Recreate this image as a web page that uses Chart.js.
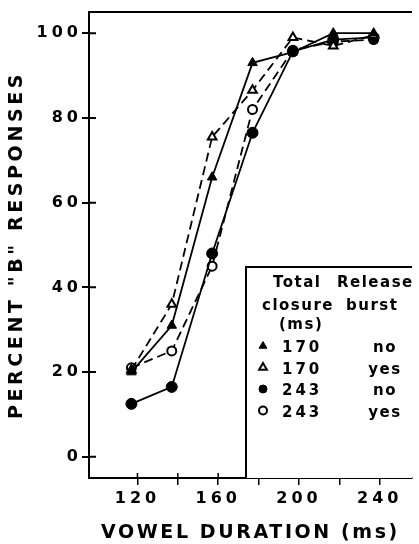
<!DOCTYPE html>
<html>
<head>
<meta charset="utf-8">
<script src="https://cdn.jsdelivr.net/npm/chart.js@4/dist/chart.umd.min.js"></script>
<style>
  html, body { margin: 0; padding: 0; background: #fff; }
  canvas { display: block; }
</style>
</head>
<body>
<canvas id="c" width="419" height="544"></canvas>
<script>
// ---- data ----
const vowelDurations = [117, 137, 157, 177, 197, 217, 237];
const closure170NoBurst  = [20, 31, 66, 93, 95.5, 100, 100];
const closure170Burst    = [20.5, 36, 75.5, 86.5, 99, 97, 99.5];
const closure243NoBurst  = [12.5, 16.5, 48, 76.5, 95.7, 98.5, 99];
const closure243Burst    = [21, 25, 45, 82, 96, 98, 98.5];
const xTickValues = [120, 140, 160, 180, 200, 220, 240];
const yTickValues = [0, 20, 40, 60, 80, 100];
const legendClosure = ['170', '170', '243', '243'];
const legendBurst = ['no', 'yes', 'no', 'yes'];

const FONT = 'DejaVu Sans';
const pts = arr => vowelDurations.map((x, i) => ({ x: x, y: arr[i] }));

const datasets = [
  { data: pts(closure170NoBurst), borderColor: '#000', borderWidth: 1.8,
    pointStyle: 'triangle', pointRadius: 5.5, pointBackgroundColor: '#000', pointBorderColor: '#000', pointBorderWidth: 1 },
  { data: pts(closure170Burst), borderColor: '#000', borderWidth: 1.8, borderDash: [9, 5],
    pointStyle: 'triangle', pointRadius: 5, pointBackgroundColor: '#fff', pointBorderColor: '#000', pointBorderWidth: 2 },
  { data: pts(closure243NoBurst), borderColor: '#000', borderWidth: 1.8,
    pointStyle: 'circle', pointRadius: 5.5, pointBackgroundColor: '#000', pointBorderColor: '#000', pointBorderWidth: 1 },
  { data: pts(closure243Burst), borderColor: '#000', borderWidth: 1.8, borderDash: [9, 5],
    pointStyle: 'circle', pointRadius: 4.5, pointBackgroundColor: '#fff', pointBorderColor: '#000', pointBorderWidth: 2 }
];

// letter spacing per scale element
const spacingPlugin = {
  id: 'spacing',
  beforeLayout(chart) { chart.ctx.letterSpacing = '4px'; },
  afterLayout(chart) {
    chart.ctx.letterSpacing = '0px';
    Object.values(chart.scales).forEach(s => {
      if (s._wrappedLS) return;
      const dl = s.drawLabels, dt = s.drawTitle;
      s.drawLabels = function (a) { const c = this.ctx; c.save(); c.letterSpacing = '4px'; dl.call(this, a); c.restore(); };
      s.drawTitle = function (a) { const c = this.ctx; c.save(); c.letterSpacing = (this.axis === 'x' ? '2.6px' : '3.6px'); dt.call(this, a); c.restore(); };
      s._wrappedLS = true;
    });
  }
};

// inner tick halves, top frame line and the legend table
const framePlugin = {
  id: 'frame',
  afterDatasetsDraw(chart) {
    const ctx = chart.ctx, a = chart.chartArea;
    const xs = chart.scales.x, ys = chart.scales.y;
    ctx.save();
    ctx.strokeStyle = '#000';
    ctx.lineWidth = 2;
    ctx.beginPath();
    ctx.moveTo(a.left - 1, a.top); ctx.lineTo(a.right, a.top);
    yTickValues.forEach(v => { const p = ys.getPixelForValue(v); ctx.moveTo(a.left, p); ctx.lineTo(a.left + 7, p); });
    ctx.stroke();
    ctx.lineWidth = 1.5;
    ctx.beginPath();
    xTickValues.forEach(v => { const p = xs.getPixelForValue(v); ctx.moveTo(p, a.bottom); ctx.lineTo(p, a.bottom - 5); });
    ctx.stroke();

    // legend box
    const bx = 246, by = 267;
    ctx.fillStyle = '#fff';
    ctx.fillRect(bx, by, a.right - bx, a.bottom - by);
    ctx.lineWidth = 2;
    ctx.beginPath();
    ctx.moveTo(bx, a.bottom); ctx.lineTo(bx, by); ctx.lineTo(a.right, by);
    ctx.stroke();

    ctx.fillStyle = '#000';
    ctx.textBaseline = 'alphabetic';
    ctx.font = 'bold 15px "' + FONT + '"';
    ctx.letterSpacing = '1.5px';
    ctx.textAlign = 'left';
    ctx.fillText('Total', 273, 287);
    ctx.fillText('Release', 337, 287);
    ctx.fillText('closure', 262, 310);
    ctx.fillText('burst', 346, 310);
    ctx.fillText('(ms)', 279, 329);
    const rowY = [352, 373.5, 395, 416.5];
    legendClosure.forEach((t, i) => {
      const ds = chart.data.datasets[i];
      ctx.fillStyle = '#000';
      ctx.letterSpacing = '3px';
      ctx.textAlign = 'left';
      ctx.fillText(t, 282, rowY[i]);
      ctx.letterSpacing = '1.5px';
      ctx.textAlign = 'center';
      ctx.fillText(legendBurst[i], 385, rowY[i]);
      ctx.fillStyle = ds.pointBackgroundColor;
      ctx.strokeStyle = '#000';
      ctx.lineWidth = ds.pointBackgroundColor === '#fff' ? 2 : 1;
      Chart.helpers.drawPoint(ctx, {
        pointStyle: ds.pointStyle, radius: ds.pointStyle === 'triangle' ? 4.5 : 4, rotation: 0,
        borderWidth: ctx.lineWidth
      }, 263, rowY[i] - 6);
    });
    ctx.restore();
  }
};

new Chart(document.getElementById('c'), {
  type: 'line',
  data: { datasets: datasets },
  plugins: [spacingPlugin, framePlugin],
  options: {
    responsive: false,
    animation: false,
    layout: { padding: { top: 12, right: 0, left: 0, bottom: 0 } },
    plugins: { legend: { display: false }, tooltip: { enabled: false } },
    scales: {
      x: {
        type: 'linear', min: 96, max: 256,
        afterBuildTicks: s => { s.ticks = xTickValues.map(v => ({ value: v })); },
        afterFit: s => { s.height = 66; },
        ticks: {
          autoSkip: false, maxRotation: 0, color: '#000', padding: 4,
          font: { family: FONT, weight: 'bold', size: 16 },
          callback: v => (v % 40 === 0 ? String(v) : '')
        },
        grid: { drawOnChartArea: false, tickLength: 7, color: '#000', lineWidth: 1.5 },
        border: { display: true, color: '#000', width: 2 },
        title: { display: true, text: 'VOWEL DURATION (ms)', color: '#000',
                 font: { family: FONT, weight: 'bold', size: 19 }, padding: { top: 0, bottom: 0 } }
      },
      y: {
        type: 'linear', min: -5, max: 105,
        afterBuildTicks: s => { s.ticks = yTickValues.map(v => ({ value: v })); },
        afterFit: s => { s.width = 89; },
        ticks: { color: '#000', padding: 0, font: { family: FONT, weight: 'bold', size: 16 } },
        grid: { drawOnChartArea: false, tickLength: 7, color: '#000', lineWidth: 2 },
        border: { display: true, color: '#000', width: 2 },
        title: { display: true, text: 'PERCENT "B" RESPONSES', color: '#000',
                 font: { family: FONT, weight: 'bold', size: 19 }, padding: { top: 6, bottom: 0 } }
      }
    }
  }
});
</script>
</body>
</html>
